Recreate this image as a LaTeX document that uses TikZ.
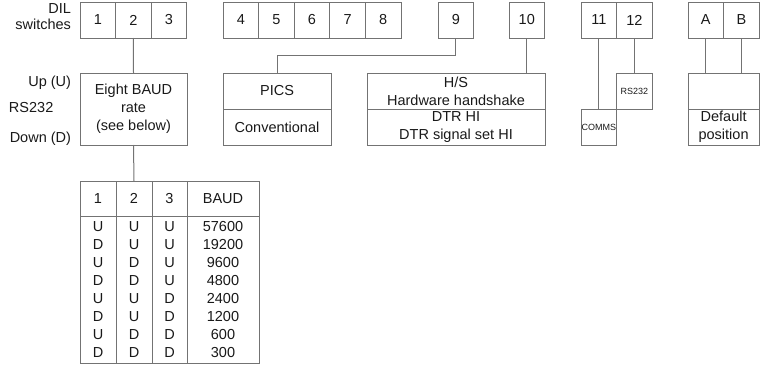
\documentclass[tikz,border=0pt]{standalone}
\usepackage{fontspec}
\setmainfont{Liberation Sans}
\begin{document}
\begin{tikzpicture}[x=1pt,y=-1pt,
  every node/.style={inner sep=0pt,outer sep=0pt,text=black!90},
  ln/.style={draw=black!55,line width=1pt},
  sw/.style={ln,minimum width=35.6pt,minimum height=36pt,font=\fontsize{14.5}{17}\selectfont},
  bx/.style={ln,align=center,font=\fontsize{14.5}{18}\selectfont},
  sm/.style={ln,align=center,font=\fontsize{9}{11}\selectfont},
  lbl/.style={font=\fontsize{14.5}{17}\selectfont},
  cell/.style={ln,align=center,font=\fontsize{14.5}{17.86}\selectfont},
  conn/.style={draw=black!55,line width=1pt}]
\useasboundingbox (0,0) rectangle (760,364);
% left labels
\node[lbl,anchor=base east] (dil) at (71,13.5) {DIL};
\node[lbl,anchor=base east] (swl) at (71,29) {switches};
\node[lbl,anchor=base east] (up) at (71,86) {Up (U)};
\node[lbl,anchor=base west] (rs) at (9,112) {RS232};
\node[lbl,anchor=base east] (down) at (71,142) {Down (D)};
% switches
\node[sw] (s1) at (97.8,20) {1};
\node[sw] (s2) at (133.4,20) {2};
\node[sw] (s3) at (169.0,20) {3};
\node[sw] (s4) at (240.8,20) {4};
\node[sw] (s5) at (276.4,20) {5};
\node[sw] (s6) at (312.0,20) {6};
\node[sw] (s7) at (347.6,20) {7};
\node[sw] (s8) at (383.2,20) {8};
\node[sw] (s9) at (455.8,20) {9};
\node[sw] (s10) at (526.8,20) {10};
\node[sw] (s11) at (598.8,20) {11};
\node[sw] (s12) at (634.4,20) {12};
\node[sw] (sA) at (705.8,20) {A};
\node[sw] (sB) at (741.4,20) {B};
% function boxes
\node[bx,minimum width=107pt,minimum height=72pt] (baud) at (133.5,109) {Eight BAUD\\rate\\(see below)};
\node[bx,minimum width=108pt,minimum height=36pt] (picsT) at (277,91) {PICS};
\node[bx,minimum width=108pt,minimum height=36pt] (picsB) at (277,127) {Conventional};
\node[bx,minimum width=178pt,minimum height=36pt] (hsT) at (456,91) {H/S\\Hardware handshake};
\node[bx,minimum width=178pt,minimum height=36pt] (hsB) at (456,127) {DTR HI\\DTR signal set HI};
\node[sm,minimum width=35.6pt,minimum height=36pt] (rsb) at (634.4,91) {RS232};
\node[sm,minimum width=35.6pt,minimum height=36pt] (comms) at (598.8,127) {COMMS};
\node[bx,minimum width=71.2pt,minimum height=36pt] (defT) at (723.6,91) {};
\node[bx,minimum width=71.2pt,minimum height=36pt] (defB) at (723.6,127) {Default\\position};
% connectors
\draw[conn] (s2.south) -- (baud.north);
\draw[conn] (s9.south) -- ++(0,17) -| (picsT.north);
\draw[conn] (s10.south) -- (s10.south |- hsT.north);
\draw[conn] (s11.south) -- (comms.north);
\draw[conn] (s12.south) -- (rsb.north);
\draw[conn] (sA.south) -- (sA.south |- defT.north);
\draw[conn] (sB.south) -- (sB.south |- defT.north);
% table
\node[cell,minimum width=36pt,minimum height=35pt] (h1) at (98,198.5) {1};
\node[cell,minimum width=36pt,minimum height=35pt] (h2) at (134,198.5) {2};
\node[cell,minimum width=35pt,minimum height=35pt] (h3) at (169.5,198.5) {3};
\node[cell,minimum width=72pt,minimum height=35pt] (h4) at (223,198.5) {BAUD};
\node[cell,minimum width=36pt,minimum height=147pt] (c1) at (98,289.5) {U\\D\\U\\D\\U\\D\\U\\D};
\node[cell,minimum width=36pt,minimum height=147pt] (c2) at (134,289.5) {U\\U\\D\\D\\U\\U\\D\\D};
\node[cell,minimum width=35pt,minimum height=147pt] (c3) at (169.5,289.5) {U\\U\\U\\U\\D\\D\\D\\D};
\node[cell,minimum width=72pt,minimum height=147pt] (c4) at (223,289.5) {57600\\19200\\9600\\4800\\2400\\1200\\600\\300};
\draw[conn] (baud.south) -- (h2.north);
\end{tikzpicture}
\end{document}
